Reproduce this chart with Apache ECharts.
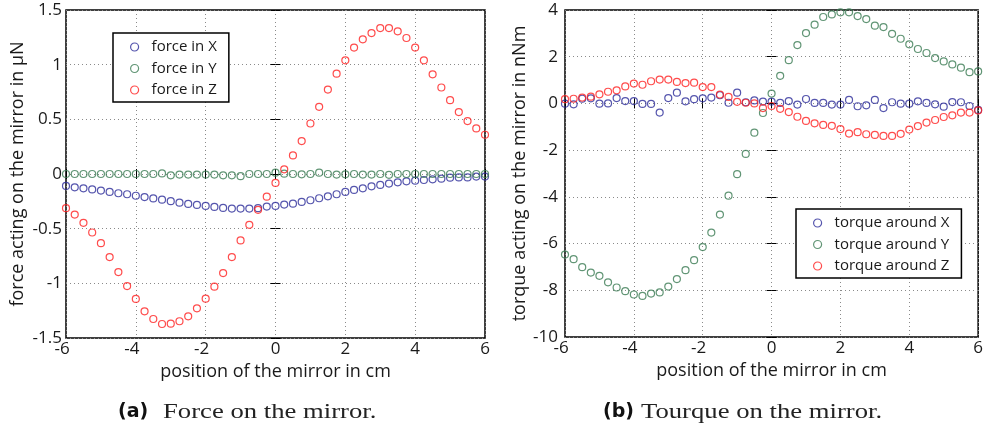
<!DOCTYPE html>
<html>
<head>
<meta charset="utf-8">
<script src="https://cdn.jsdelivr.net/npm/echarts@6/dist/echarts.min.js"></script>
<style>
html,body{margin:0;padding:0;background:#fff;}
#chart{width:986px;height:432px;}
</style>
</head>
<body>
<div id="chart"></div>
<script>
// position of the mirror in cm (x values)
var positions = [-6,-5.75,-5.5,-5.25,-5,-4.75,-4.5,-4.25,-4,-3.75,-3.5,-3.25,-3,-2.75,-2.5,-2.25,-2,-1.75,-1.5,-1.25,-1,-0.75,-0.5,-0.25,0,0.25,0.5,0.75,1,1.25,1.5,1.75,2,2.25,2.5,2.75,3,3.25,3.5,3.75,4,4.25,4.5,4.75,5,5.25,5.5,5.75,6];

// (a) force in µN
var forceX = [-0.109,-0.122,-0.131,-0.141,-0.152,-0.164,-0.176,-0.185,-0.199,-0.211,-0.223,-0.235,-0.249,-0.262,-0.274,-0.283,-0.292,-0.301,-0.310,-0.316,-0.316,-0.316,-0.313,-0.298,-0.292,-0.280,-0.271,-0.255,-0.240,-0.222,-0.204,-0.185,-0.164,-0.146,-0.131,-0.113,-0.100,-0.088,-0.076,-0.067,-0.061,-0.055,-0.049,-0.043,-0.034,-0.031,-0.031,-0.024,-0.024];
var forceY = [0,0,0,0,0,0,0,0,0,0,0,0.005,-0.012,-0.005,-0.005,-0.005,-0.005,-0.005,-0.012,-0.012,-0.02,0,0,0,0.012,0.003,0,-0.003,0,0.012,0,-0.005,-0.003,0,-0.005,-0.005,0,-0.008,0,0,0,0,0,0,0,0,0,0,0];
var forceZ = [-0.313,-0.371,-0.447,-0.535,-0.633,-0.760,-0.897,-1.025,-1.143,-1.256,-1.326,-1.372,-1.369,-1.347,-1.302,-1.229,-1.140,-1.031,-0.906,-0.760,-0.608,-0.465,-0.328,-0.207,-0.082,0.043,0.170,0.301,0.462,0.614,0.772,0.918,1.040,1.156,1.232,1.289,1.335,1.335,1.305,1.244,1.156,1.040,0.912,0.791,0.675,0.566,0.484,0.417,0.359];

// (b) torque in nNm
var torqueX = [-0.01,-0.04,0.20,0.22,-0.01,0.00,0.23,0.10,0.10,-0.02,-0.02,-0.39,0.23,0.46,0.09,0.18,0.22,0.25,0.35,0.03,0.46,0.05,0.13,0.08,0.08,0.02,0.10,-0.05,0.19,0.02,0.02,-0.05,-0.05,0.15,-0.12,-0.08,0.15,-0.20,0.05,-0.01,-0.01,0.09,0.02,-0.04,-0.14,0.06,0.05,-0.11,-0.28];
var torqueY = [-6.47,-6.67,-7.01,-7.24,-7.38,-7.66,-7.88,-8.04,-8.18,-8.24,-8.14,-8.09,-7.84,-7.52,-7.14,-6.71,-6.15,-5.53,-4.76,-3.95,-3.03,-2.16,-1.25,-0.41,0.42,1.18,1.85,2.50,3.01,3.37,3.70,3.81,3.90,3.90,3.74,3.61,3.33,3.27,2.98,2.77,2.53,2.33,2.16,1.94,1.80,1.67,1.53,1.34,1.37];
var torqueZ = [0.18,0.20,0.25,0.29,0.39,0.50,0.56,0.73,0.85,0.80,0.95,1.02,1.02,0.92,0.87,0.89,0.70,0.70,0.38,0.28,0.07,0.03,0.00,-0.20,-0.11,-0.23,-0.37,-0.57,-0.75,-0.85,-0.92,-0.96,-1.10,-1.29,-1.23,-1.32,-1.35,-1.39,-1.39,-1.30,-1.12,-0.97,-0.82,-0.71,-0.58,-0.51,-0.39,-0.39,-0.30];

var forceNames = ['force in X','force in Y','force in Z'];
var torqueNames = ['torque around X','torque around Y','torque around Z'];
var xTicks = {min:-6, max:6, interval:2};
var forceTicks = {min:-1.5, max:1.5, interval:0.5};
var torqueTicks = {min:-10, max:4, interval:2};
var captionA = ['(a)', 'Force on the mirror.'];
var captionB = ['(b)', 'Tourque on the mirror.'];

var colors = ['#2a2a98', '#3a7a52', '#ff1f1f'];
var FONT = '"Open Sans", sans-serif';
var TXT = '#1a1a1a';

function pairs(ys){ return positions.map(function(x,i){ return [x, ys[i]]; }); }

function xLabelFmt(v){ return v < 0 ? '{n|' + v + '}' : '{p|' + v + '}'; }

function mainX(grid, gap){
  return {
    gridIndex: grid, type:'value', position:'bottom',
    min:xTicks.min, max:xTicks.max, interval:xTicks.interval,
    name:'position of the mirror in cm', nameLocation:'middle', nameGap:gap,
    nameTextStyle:{fontFamily:FONT, fontSize:18, color:TXT},
    axisLine:{show:false},
    axisTick:{show:true, inside:true, length:5, lineStyle:{color:'#000', width:1}},
    axisLabel:{formatter:xLabelFmt, margin:3, color:TXT, fontFamily:FONT, fontSize:17,
      rich:{n:{padding:[0,8,0,0], fontFamily:FONT, fontSize:17, color:TXT}, p:{fontFamily:FONT, fontSize:17, color:TXT}}},
    splitLine:{show:true, lineStyle:{color:'#8a8a8a', width:1, type:[1,3]}}
  };
}
function topX(grid){
  return {gridIndex:grid, type:'value', position:'top', min:xTicks.min, max:xTicks.max, interval:xTicks.interval,
    axisLine:{show:false}, axisLabel:{show:false}, splitLine:{show:false},
    axisTick:{show:true, inside:true, length:5, lineStyle:{color:'#000', width:1}}};
}
function mainY(grid, t, name, gap, margin){
  return {
    gridIndex:grid, type:'value', position:'left',
    min:t.min, max:t.max, interval:t.interval,
    name:name, nameLocation:'middle', nameGap:gap,
    nameTextStyle:{fontFamily:FONT, fontSize:18, color:TXT},
    axisLine:{show:false},
    axisTick:{show:true, inside:true, length:5, lineStyle:{color:'#000', width:1}},
    axisLabel:{margin:margin, color:TXT, fontFamily:FONT, fontSize:17},
    splitLine:{show:true, lineStyle:{color:'#8a8a8a', width:1, type:[1,3]}}
  };
}
function rightY(grid, t){
  return {gridIndex:grid, type:'value', position:'right', min:t.min, max:t.max, interval:t.interval,
    axisLine:{show:false}, axisLabel:{show:false}, splitLine:{show:false},
    axisTick:{show:true, inside:true, length:5, lineStyle:{color:'#000', width:1}}};
}
function sc(name, data, xi, yi, c){
  return {type:'scatter', name:name, data:pairs(data), xAxisIndex:xi, yAxisIndex:yi,
    symbol:'circle', symbolSize:7,
    itemStyle:{color:'rgba(0,0,0,0)', borderColor:c, borderWidth:1.2},
    emphasis:{disabled:true}, animation:false};
}
function legend(names, left, top){
  return {data:names, orient:'vertical', left:left, top:top,
    padding:[6,12,4,17], itemGap:5.5, itemWidth:24, itemHeight:8,
    icon:'circle',
    itemStyle:{borderWidth:1.2},
    borderColor:'#000', borderWidth:1.5, backgroundColor:'#fff',
    textStyle:{fontFamily:FONT, fontSize:15, color:TXT, lineHeight:16},
    selectedMode:false};
}

var chart = echarts.init(document.getElementById('chart'), null, {renderer:'canvas'});
chart.setOption({
  animation:false,
  backgroundColor:'#fff',
  grid:[
    {left:66, right:501, top:10, bottom:94, show:true, borderColor:'#000', borderWidth:1.5, backgroundColor:'transparent'},
    {left:565, right:4, top:10, bottom:95, show:true, borderColor:'#000', borderWidth:1.5, backgroundColor:'transparent'}
  ],
  xAxis:[mainX(0, 25), topX(0), mainX(1, 21), topX(1)],
  yAxis:[
    mainY(0, forceTicks, 'force acting on the mirror in \u03bcN', 39, 4), rightY(0, forceTicks),
    mainY(1, torqueTicks, 'torque acting on the mirror in nNm', 36, 7), rightY(1, torqueTicks)
  ],
  legend:[legend(forceNames, 113, 33), legend(torqueNames, 796, 209)],
  series:[
    sc(forceNames[0], forceX, 0, 0, colors[0]),
    sc(forceNames[1], forceY, 0, 0, colors[1]),
    sc(forceNames[2], forceZ, 0, 0, colors[2]),
    sc(torqueNames[0], torqueX, 2, 2, colors[0]),
    sc(torqueNames[1], torqueY, 2, 2, colors[1]),
    sc(torqueNames[2], torqueZ, 2, 2, colors[2])
  ],
  graphic:[
    {type:'text', x:118, y:412, style:{text:captionA[0], font:'bold 19px "DejaVu Sans", sans-serif', fill:'#111', verticalAlign:'middle'}},
    {type:'text', x:163, y:412, scaleX:1.27, style:{text:captionA[1], font:'21px "Liberation Serif", serif', fill:'#222', verticalAlign:'middle'}},
    {type:'text', x:603, y:412, style:{text:captionB[0], font:'bold 19px "DejaVu Sans", sans-serif', fill:'#111', verticalAlign:'middle'}},
    {type:'text', x:641, y:412, scaleX:1.27, style:{text:captionB[1], font:'21px "Liberation Serif", serif', fill:'#222', verticalAlign:'middle'}}
  ]
});
</script>
</body>
</html>
